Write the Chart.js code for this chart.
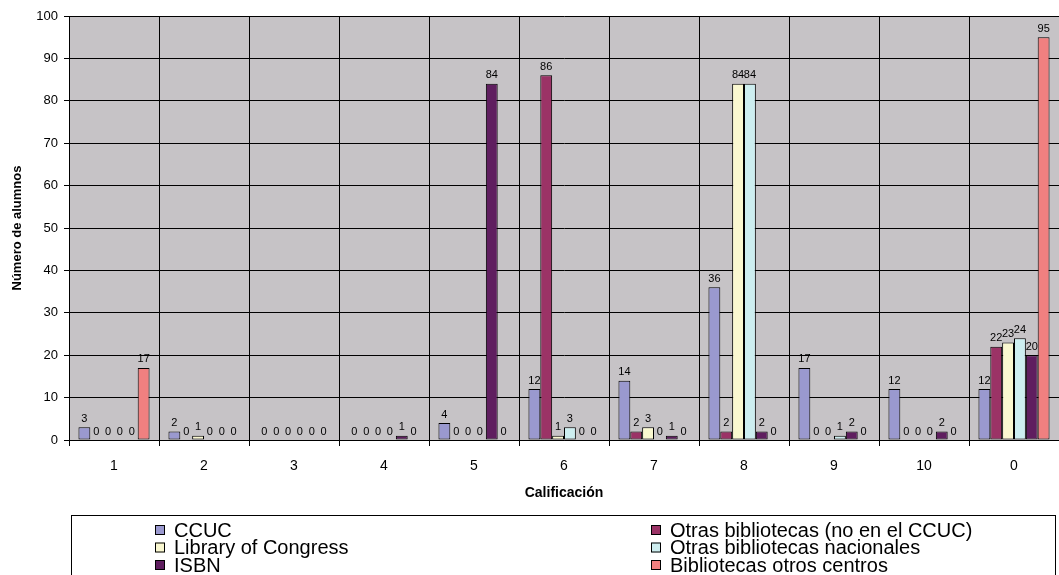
<!DOCTYPE html>
<html>
<head>
<meta charset="utf-8">
<script src="https://cdn.jsdelivr.net/npm/chart.js@4/dist/chart.umd.min.js"></script>
<style>
  html, body { margin: 0; padding: 0; background: #ffffff; }
  #wrap { width: 1059px; height: 575px; position: relative; overflow: hidden; }
</style>
</head>
<body>
<div id="wrap"><canvas id="c" width="1059" height="575"></canvas></div>
<script>
// Calificaciones (eje X)
const categories = ['1', '2', '3', '4', '5', '6', '7', '8', '9', '10', '0'];

// Número de alumnos por fuente de catalogación
const ccuc              = [3, 2, 0, 0, 4, 12, 14, 36, 17, 12, 12];
const otrasNoCcuc       = [0, 0, 0, 0, 0, 86, 2, 2, 0, 0, 22];
const libraryOfCongress = [0, 1, 0, 0, 0, 1, 3, 84, 0, 0, 23];
const otrasNacionales   = [0, 0, 0, 0, 0, 3, 0, 84, 1, 0, 24];
const isbn              = [0, 0, 0, 1, 84, 0, 1, 2, 2, 2, 20];
const otrosCentros      = [17, 0, 0, 0, 0, 0, 0, 0, 0, 0, 95];

const seriesNames = [
  'CCUC',
  'Otras bibliotecas (no en el CCUC)',
  'Library of Congress',
  'Otras bibliotecas nacionales',
  'ISBN',
  'Bibliotecas otros centros'
];
const seriesValues = [ccuc, otrasNoCcuc, libraryOfCongress, otrasNacionales, isbn, otrosCentros];
const seriesColors = ['#9A99CF', '#9B3366', '#FAF8D0', '#CDEEF0', '#5F1E5F', '#F08080'];

const FONT = '"Liberation Sans", Arial, sans-serif';

// Fondo gris del área de trazado
const plotBackground = {
  id: 'plotBackground',
  beforeDraw(chart) {
    const { ctx, chartArea: a } = chart;
    ctx.save();
    ctx.fillStyle = '#C6C3C6';
    ctx.fillRect(a.left, a.top, a.right - a.left, a.bottom - a.top);
    ctx.restore();
  }
};

// Etiquetas con el valor encima de cada barra
const valueLabels = {
  id: 'valueLabels',
  afterDatasetsDraw(chart) {
    const { ctx } = chart;
    ctx.save();
    ctx.font = '11px ' + FONT;
    ctx.fillStyle = '#000000';
    ctx.textAlign = 'center';
    ctx.textBaseline = 'bottom';
    chart.data.datasets.forEach((ds, i) => {
      const meta = chart.getDatasetMeta(i);
      meta.data.forEach((bar, j) => {
        ctx.fillText(String(ds.data[j]), bar.x, bar.y - 3);
      });
    });
    ctx.restore();
  }
};

// Leyenda en dos columnas dentro de un recuadro
const boxedLegend = {
  id: 'boxedLegend',
  afterDraw(chart) {
    const { ctx } = chart;
    ctx.save();
    ctx.strokeStyle = '#000000';
    ctx.lineWidth = 1;
    ctx.strokeRect(71.5, 515.5, 984, 80);
    ctx.font = '20px ' + FONT;
    ctx.textBaseline = 'middle';
    ctx.textAlign = 'left';
    const colX = [155, 651];
    const rowY = [530, 547.5, 565];
    chart.data.datasets.forEach((ds, i) => {
      const x = colX[i % 2];
      const y = rowY[Math.floor(i / 2)];
      ctx.fillStyle = ds.backgroundColor;
      ctx.fillRect(x, y - 5, 10, 10);
      ctx.strokeRect(x + 0.5, y - 4.5, 9, 9);
      ctx.fillStyle = '#000000';
      ctx.fillText(ds.label, x + 19, y + 1);
    });
    ctx.restore();
  }
};

const datasets = seriesNames.map((name, i) => ({
  label: name,
  data: seriesValues[i],
  backgroundColor: seriesColors[i],
  borderColor: '#000000',
  borderWidth: (c) => (c.raw === 0 ? 0 : 1),
  borderSkipped: false,
  categoryPercentage: 0.79,
  barPercentage: 1.0
}));

new Chart(document.getElementById('c'), {
  type: 'bar',
  data: { labels: categories, datasets },
  options: {
    responsive: false,
    animation: false,
    devicePixelRatio: 1,
    layout: { padding: { left: 0, top: 16, right: 0, bottom: 70 } },
    plugins: {
      legend: { display: false },
      tooltip: { enabled: false }
    },
    scales: {
      x: {
        grid: {
          color: '#000000',
          lineWidth: 1,
          tickLength: 6,
          offset: true
        },
        border: { color: '#000000', width: 1 },
        ticks: {
          color: '#000000',
          font: { family: FONT, size: 14 },
          padding: 12,
          maxRotation: 0
        },
        title: {
          display: true,
          text: 'Calificación',
          color: '#000000',
          font: { family: FONT, size: 14, weight: 'bold' },
          padding: { top: 0, bottom: 3 }
        },
        afterFit(scale) { scale.height = 65; }
      },
      y: {
        min: 0,
        max: 100,
        grid: {
          color: '#000000',
          lineWidth: 1,
          tickLength: 5
        },
        border: { color: '#000000', width: 1 },
        ticks: {
          stepSize: 10,
          color: '#000000',
          font: { family: FONT, size: 13 },
          padding: 6
        },
        title: {
          display: true,
          text: 'Número de alumnos',
          color: '#000000',
          font: { family: FONT, size: 13, weight: 'bold' },
          padding: { top: 10, bottom: 0 }
        },
        afterFit(scale) { scale.width = 69; }
      }
    }
  },
  plugins: [plotBackground, valueLabels, boxedLegend]
});
</script>
</body>
</html>
